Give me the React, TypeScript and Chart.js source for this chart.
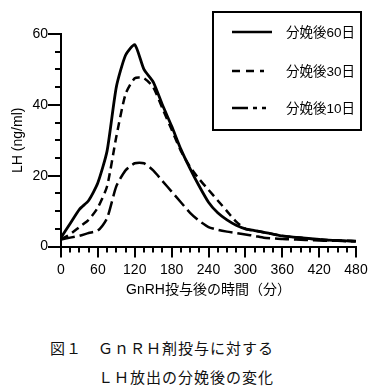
import React, { useEffect, useRef } from "react";
import { Chart, registerables } from "chart.js";

Chart.register(...registerables);

const times = [0, 15, 30, 45, 60, 75, 90, 105, 120, 135, 150, 165, 180, 195, 210, 225, 240, 255, 270, 285, 300, 315, 330, 345, 360, 375, 390, 405, 420, 435, 450, 465, 480];
const lh60 = [2.5, 6.5, 10.5, 13, 18, 27, 45, 54, 57, 50, 46.5, 40, 34, 27.5, 22, 17, 12.5, 9.5, 7.5, 6, 5, 4.5, 4, 3.5, 3, 2.7, 2.5, 2.2, 2, 1.8, 1.7, 1.6, 1.5];
const lh30 = [2, 3.5, 5.5, 7.5, 11, 17, 31, 43, 47.5, 47.5, 45, 39, 33, 27, 22.5, 19, 16, 13, 10, 7, 5, 4.5, 4, 3.5, 3, 2.7, 2.5, 2.2, 2, 1.8, 1.7, 1.6, 1.5];
const lh10 = [2, 2.5, 3, 3.8, 4.5, 8, 17, 21.5, 23.5, 23.5, 21.5, 18.5, 15.5, 12.5, 9.5, 7.2, 5.5, 4.7, 4.2, 3.8, 3.4, 3, 2.5, 2.3, 2.1, 2, 1.9, 1.8, 1.7, 1.6, 1.6, 1.5, 1.5];
const seriesLabels = ["分娩後60日", "分娩後30日", "分娩後10日"];
const xTitle = "GnRH投与後の時間（分）";
const yTitle = "LH (ng/ml)";
const captionLines = ["図１　ＧｎＲＨ剤投与に対する", "　　　ＬＨ放出の分娩後の変化"];

const FONT = "'Liberation Sans', 'Noto Sans CJK JP', sans-serif";
const legendDashes = [[], [8, 6, 8, 6, 4], [16, 5, 4, 5, 4]];

const tickPlugin = {
  id: "customTicks",
  afterDraw(chart: any) {
    const ctx = chart.ctx;
    const xs = chart.scales.x;
    const ys = chart.scales.y;
    ctx.save();
    ctx.strokeStyle = "#000";
    ctx.lineWidth = 2;
    ctx.setLineDash([]);
    const axisY = ys.getPixelForValue(0);
    const axisX = xs.getPixelForValue(0);
    xs.ticks.forEach((t: any) => {
      const px = Math.round(xs.getPixelForValue(t.value));
      const len = t.value % 60 === 0 ? 11 : 6;
      ctx.beginPath();
      ctx.moveTo(px, axisY);
      ctx.lineTo(px, axisY + len);
      ctx.stroke();
    });
    ys.ticks.forEach((t: any) => {
      const py = Math.round(ys.getPixelForValue(t.value));
      const len = t.value % 20 === 0 ? 13 : 6;
      ctx.beginPath();
      ctx.moveTo(axisX, py);
      ctx.lineTo(axisX - len, py);
      ctx.stroke();
    });
    // legend box
    const bx = 213, by = 12, bw = 148, bh = 118;
    ctx.lineWidth = 2;
    ctx.strokeRect(bx, by, bw, bh);
    const rows = [32, 71, 108];
    chart.data.datasets.forEach((ds: any, i: number) => {
      ctx.save();
      ctx.lineWidth = 2.5;
      ctx.setLineDash(legendDashes[i]);
      ctx.beginPath();
      ctx.moveTo(232, rows[i]);
      ctx.lineTo(272, rows[i]);
      ctx.stroke();
      ctx.restore();
      ctx.fillStyle = "#000";
      ctx.font = `13.5px ${FONT}`;
      ctx.textBaseline = "middle";
      ctx.textAlign = "left";
      ctx.fillText(ds.label, 286, rows[i] + 1);
    });
    ctx.restore();
  },
};

function LHChart() {
  const ref = useRef<HTMLCanvasElement>(null);
  useEffect(() => {
    if (!ref.current) return;
    const chart = new Chart(ref.current, {
      type: "line",
      data: {
        labels: times,
        datasets: [
          { label: seriesLabels[0], data: times.map((t, i) => ({ x: t, y: lh60[i] })), borderColor: "#000", borderWidth: 2.8, pointRadius: 0, tension: 0.2, borderDash: [] },
          { label: seriesLabels[1], data: times.map((t, i) => ({ x: t, y: lh30[i] })), borderColor: "#000", borderWidth: 2.5, pointRadius: 0, tension: 0.2, borderDash: [8, 5] },
          { label: seriesLabels[2], data: times.map((t, i) => ({ x: t, y: lh10[i] })), borderColor: "#000", borderWidth: 2.5, pointRadius: 0, tension: 0.2, borderDash: [14, 5] },
        ],
      },
      options: {
        responsive: false,
        animation: false,
        layout: { padding: { left: 0, top: 34, right: 29, bottom: 0 } },
        plugins: { legend: { display: false }, tooltip: { enabled: false } },
        scales: {
          x: {
            type: "linear",
            min: 0,
            max: 480,
            afterFit: (s: any) => { s.height = 310 - 246.5; },
            grid: { display: false, drawTicks: false, tickLength: 0 },
            border: { display: true, color: "#000", width: 2 },
            ticks: {
              stepSize: 15,
              autoSkip: false,
              maxRotation: 0,
              minRotation: 0,
              padding: 15,
              color: "#000",
              font: { family: FONT, size: 14 },
              callback: (v: any) => (Number(v) % 60 === 0 ? String(v) : ""),
            },
            title: { display: true, text: xTitle, color: "#000", font: { family: FONT, size: 14 }, padding: { top: 0, bottom: 11.6 } },
          },
          y: {
            min: 0,
            max: 60,
            afterFit: (s: any) => { s.width = 61; },
            grid: { display: false, drawTicks: false, tickLength: 0 },
            border: { display: true, color: "#000", width: 2 },
            ticks: {
              stepSize: 5,
              autoSkip: false,
              padding: 13,
              color: "#000",
              font: { family: FONT, size: 14 },
              callback: (v: any) => (Number(v) % 20 === 0 ? String(v) : ""),
            },
            title: { display: true, text: yTitle, color: "#000", font: { family: FONT, size: 14 }, padding: { top: 9.6, bottom: 0 } },
          },
        },
      },
      plugins: [tickPlugin],
    } as any);
    return () => chart.destroy();
  }, []);
  return <canvas ref={ref} width={385} height={310} style={{ position: "absolute", left: 0, top: 0, width: 385, height: 310 }} />;
}

export default function App() {
  return (
    <div style={{ position: "absolute", left: 0, top: 0, width: 385, height: 389, background: "#fff", overflow: "hidden" }}>
      <LHChart />
      {captionLines.map((line, i) => (
        <div
          key={i}
          style={{
            position: "absolute",
            left: 50,
            top: 340 + i * 29,
            fontFamily: "'Noto Sans CJK JP', sans-serif",
            fontSize: 15,
            lineHeight: "16px",
            letterSpacing: 1,
            whiteSpace: "pre",
            color: "#111",
          }}
        >
          {line}
        </div>
      ))}
    </div>
  );
}
